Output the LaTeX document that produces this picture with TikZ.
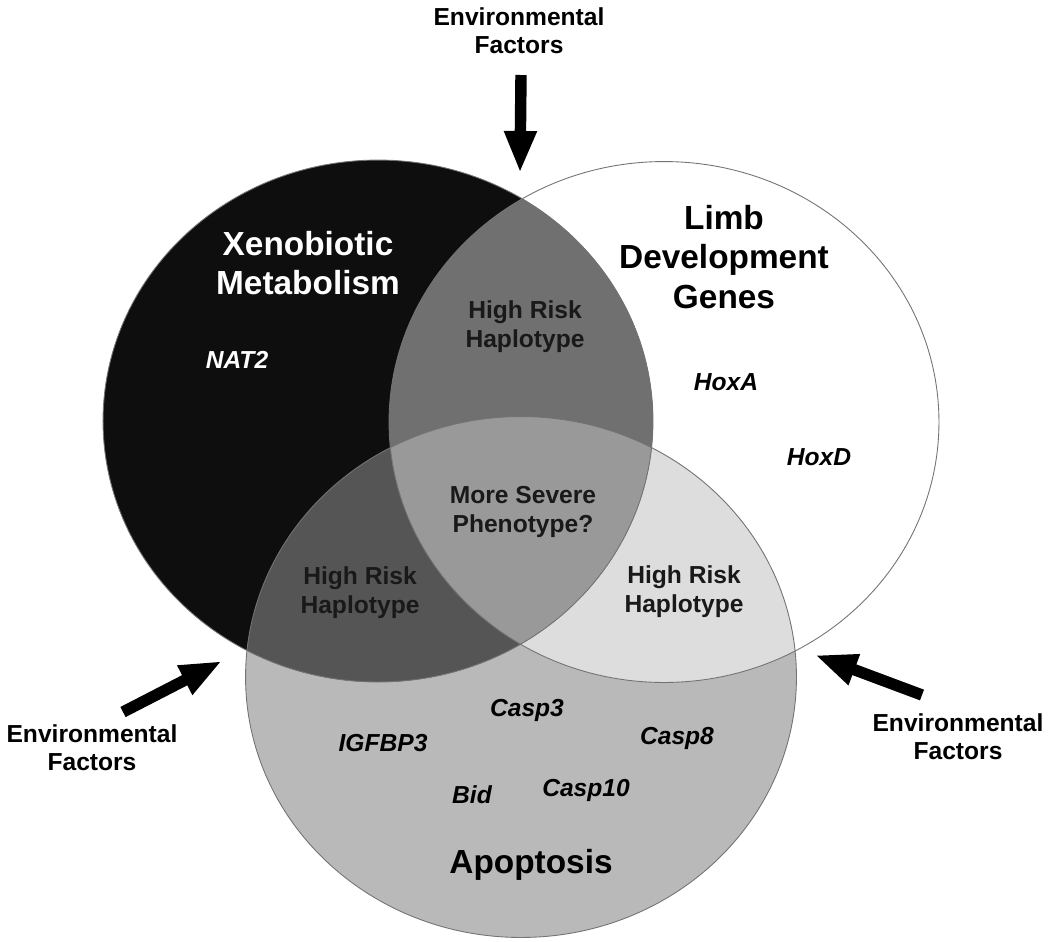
\documentclass[tikz,border=0pt]{standalone}
\usepackage{fontspec}
\setmainfont{Liberation Sans}
\usetikzlibrary{arrows.meta}

\newcommand{\xenopath}{(378,421) ellipse [x radius=5.5cm, y radius=5.22cm]}
\newcommand{\limbpath}{(664,422) ellipse [x radius=5.5cm, y radius=5.21cm]}
\newcommand{\apoppath}{(521,677) ellipse [x radius=5.51cm, y radius=5.21cm]}

\definecolor{xenofill}{gray}{0.055}
\definecolor{apopfill}{gray}{0.725}
\definecolor{xlfill}{gray}{0.44}
\definecolor{xafill}{gray}{0.335}
\definecolor{lafill}{gray}{0.865}
\definecolor{allfill}{gray}{0.6}

\begin{document}
\begin{tikzpicture}[x=0.02cm,y=-0.02cm,
  circtitle/.style={font=\fontsize{19}{22.5}\selectfont\bfseries, align=center},
  regiontext/.style={font=\fontsize{14}{16.5}\selectfont\bfseries, align=center, text=black!90},
  envtext/.style={font=\fontsize{14}{16}\selectfont\bfseries, align=center},
  gene/.style={font=\fontsize{14}{16}\selectfont\bfseries\itshape},
  envarrow/.style={line width=6.5pt, -{Triangle[length=0.84cm,width=0.6cm]}},
  rim/.style={draw=black!55, line width=0.5pt}]
\useasboundingbox (0,0) rectangle (1050,941);

\fill[white] \limbpath;
\fill[apopfill] \apoppath;
\fill[xenofill] \xenopath;
\begin{scope}
\clip \apoppath;
\fill[lafill] \limbpath;
\end{scope}
\begin{scope}
\clip \xenopath;
\fill[xlfill] \limbpath;
\fill[xafill] \apoppath;
\end{scope}
\begin{scope}
\clip \xenopath;
\clip \limbpath;
\fill[allfill] \apoppath;
\end{scope}
\draw[rim] \limbpath;
\draw[rim] \apoppath;
\draw[rim] \xenopath;

\node [circtitle, text=white] (xeno) at (308,263) {Xenobiotic\\Metabolism};
\node [circtitle] (limb) at (724,257) {Limb\\Development\\Genes};
\node [circtitle] (apop) at (531,865) {Apoptosis};

\node [regiontext] (hr1) at (525,327) {High Risk\\Haplotype};
\node [regiontext] (severe) at (523,512) {More Severe\\Phenotype?};
\node [regiontext] (hr2) at (360,593) {High Risk\\Haplotype};
\node [regiontext] (hr3) at (684,592) {High Risk\\Haplotype};

\node [gene, text=white] (nat) at (237,360) {NAT2};
\node [gene] (hoxa) at (726,382) {HoxA};
\node [gene] (hoxd) at (819,457) {HoxD};
\node [gene] (casp3) at (527,710) {Casp3};
\node [gene] (igf) at (383,743) {IGFBP3};
\node [gene] (casp8) at (677,738) {Casp8};
\node [gene] (bid) at (472,795) {Bid};
\node [gene] (casp10) at (586,790) {Casp10};

\node [envtext] (envtop) at (519,31) {Environmental\\Factors};
\node [envtext] (envleft) at (92,748) {Environmental\\Factors};
\node [envtext] (envright) at (958,737) {Environmental\\Factors};

\coordinate (ttop) at (521,75);
\coordinate (htop) at (520,173);
\coordinate (tleft) at (123,712);
\coordinate (hleft) at (222,661);
\coordinate (tright) at (922,695);
\coordinate (hright) at (815,655);

\draw[envarrow] (ttop) -- (htop);
\draw[envarrow] (tleft) -- (hleft);
\draw[envarrow] (tright) -- (hright);
\end{tikzpicture}
\end{document}
